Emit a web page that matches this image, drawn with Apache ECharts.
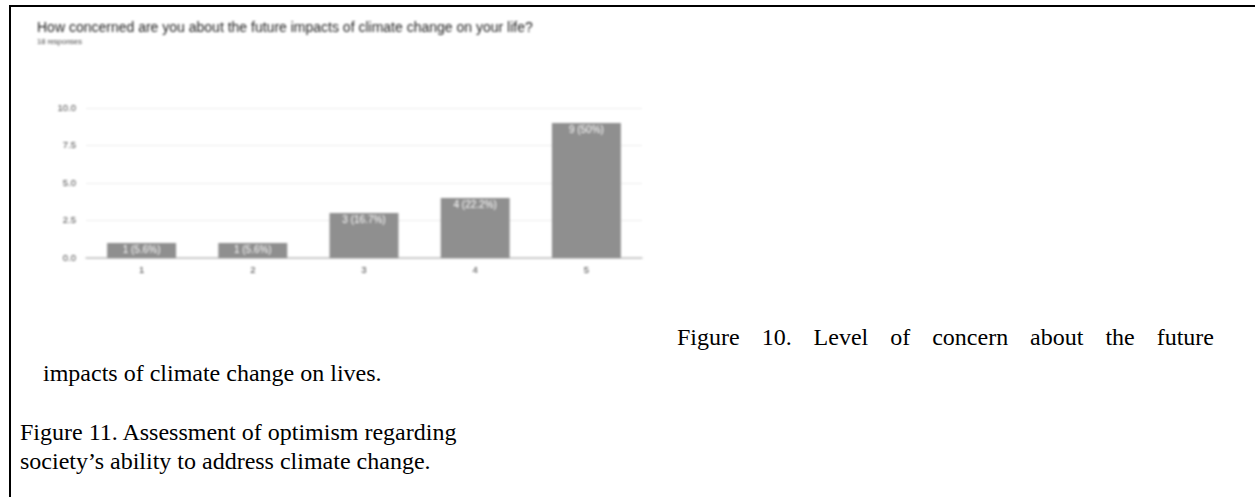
<!DOCTYPE html>
<html>
<head>
<meta charset="utf-8">
<script src="https://cdn.jsdelivr.net/npm/echarts@6/dist/echarts.min.js"></script>
<style>
  html, body { margin: 0; padding: 0; background: #fff; }
  body { width: 1255px; height: 497px; position: relative; overflow: hidden; }
  #chart { position: absolute; left: 0; top: 0; width: 660px; height: 300px; filter: blur(0.8px); }
  #frameTop { position: absolute; left: 9px; top: 5px; width: 1246px; height: 2px; background: #000; z-index: 2; }
  #frameLeft { position: absolute; left: 9px; top: 5px; width: 2px; height: 492px; background: #000; z-index: 2; }
  .cap { position: absolute; font-family: "Liberation Serif", "Times New Roman", serif; font-size: 24px; color: #000; white-space: nowrap; line-height: 28px; z-index: 2; }
  .justified { white-space: normal; text-align: justify; text-align-last: justify; }
</style>
</head>
<body>
<div id="chart"></div>
<div id="frameTop"></div>
<div id="frameLeft"></div>
<div class="cap justified" style="left:677px; top:323px; width:537px;">Figure 10. Level of concern about the future</div>
<div class="cap" style="left:43px; top:359px;">impacts of climate change on lives.</div>
<div class="cap" style="left:20px; top:418px;">Figure 11. Assessment of optimism regarding</div>
<div class="cap" style="left:20px; top:447px;">society’s ability to address climate change.</div>
<script>
// Survey question and responses
const questionTitle = 'How concerned are you about the future impacts of climate change on your life?';
const responseNote = '18 responses';
const categories = ['1', '2', '3', '4', '5'];
const counts = [1, 1, 3, 4, 9];
const percentLabels = ['5.6%', '5.6%', '16.7%', '22.2%', '50%'];
const yTicks = [0, 2.5, 5, 7.5, 10];

const chart = echarts.init(document.getElementById('chart'), null, { renderer: 'canvas' });

chart.setOption({
  backgroundColor: 'transparent',
  animation: false,
  title: {
    text: questionTitle,
    subtext: responseNote,
    left: 32,
    top: 16,
    itemGap: 3,
    textStyle: { fontFamily: 'Arial, "Liberation Sans", sans-serif', fontSize: 14, fontWeight: 'normal', color: '#222' },
    subtextStyle: { fontFamily: 'Arial, "Liberation Sans", sans-serif', fontSize: 7.5, color: '#444' }
  },
  grid: { left: 86, right: 18, top: 108, bottom: 42, containLabel: false },
  xAxis: {
    type: 'category',
    data: categories,
    axisLine: { lineStyle: { color: '#bdbdbd', width: 1.5 } },
    axisTick: { show: false },
    axisLabel: { fontFamily: 'Arial, "Liberation Sans", sans-serif', fontSize: 9.5, color: '#444', margin: 7 }
  },
  yAxis: {
    type: 'value',
    min: yTicks[0],
    max: yTicks[yTicks.length - 1],
    interval: yTicks[1] - yTicks[0],
    axisLine: { show: false },
    axisTick: { show: false },
    splitLine: { lineStyle: { color: '#ececec', width: 1 } },
    axisLabel: {
      fontFamily: 'Arial, "Liberation Sans", sans-serif', fontSize: 9.5, color: '#4a4a4a', margin: 10,
      formatter: v => v.toFixed(1)
    }
  },
  series: [{
    type: 'bar',
    data: counts,
    barWidth: '62%',
    itemStyle: { color: '#8f8f8f' },
    label: {
      show: true,
      position: 'insideTop',
      distance: 2,
      fontFamily: 'Arial, "Liberation Sans", sans-serif',
      fontSize: 10,
      color: '#ffffff',
      formatter: p => counts[p.dataIndex] + ' (' + percentLabels[p.dataIndex] + ')'
    }
  }]
});
</script>
</body>
</html>
